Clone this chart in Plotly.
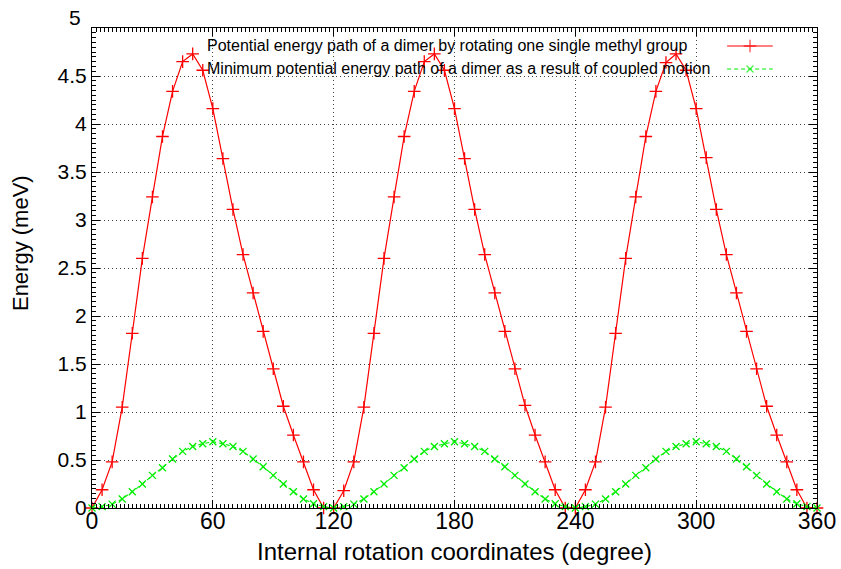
import plotly.graph_objects as go

# Internal rotation angle (degree)
angles = list(range(0, 365, 5))

# Potential energy path by rotating one single methyl group (meV)
red_energy = [
    0.00, 0.19, 0.48, 1.05, 1.82, 2.60, 3.24, 3.87, 4.34, 4.65, 4.73, 4.56,
    4.16, 3.64, 3.11, 2.64, 2.24, 1.84, 1.45, 1.06, 0.76, 0.48, 0.19, 0.00,
    0.00, 0.18, 0.48, 1.05, 1.82, 2.60, 3.24, 3.87, 4.34, 4.65, 4.73, 4.56,
    4.16, 3.64, 3.11, 2.64, 2.24, 1.84, 1.45, 1.07, 0.76, 0.48, 0.19, 0.00,
    0.00, 0.19, 0.48, 1.05, 1.82, 2.60, 3.24, 3.87, 4.34, 4.64, 4.73, 4.56,
    4.16, 3.65, 3.11, 2.64, 2.24, 1.84, 1.45, 1.06, 0.76, 0.48, 0.19, 0.00,
    0.00,
]

# Minimum potential energy path from coupled motion (meV)
green_energy = [
    0.000, 0.014, 0.040, 0.094, 0.170, 0.250, 0.340, 0.420, 0.510, 0.590, 0.640, 0.670,
    0.690, 0.670, 0.640, 0.590, 0.510, 0.430, 0.340, 0.250, 0.170, 0.094, 0.045, 0.014,
    0.000, 0.014, 0.040, 0.094, 0.170, 0.250, 0.340, 0.420, 0.510, 0.590, 0.640, 0.670,
    0.690, 0.670, 0.640, 0.590, 0.510, 0.430, 0.340, 0.250, 0.170, 0.094, 0.045, 0.014,
    0.000, 0.014, 0.040, 0.094, 0.170, 0.250, 0.340, 0.420, 0.510, 0.590, 0.640, 0.670,
    0.690, 0.670, 0.640, 0.590, 0.510, 0.430, 0.340, 0.250, 0.170, 0.094, 0.045, 0.014,
    0.000,
]

x_ticks = [0, 60, 120, 180, 240, 300, 360]
y_ticks = [0, 0.5, 1, 1.5, 2, 2.5, 3, 3.5, 4, 4.5, 5]
y_tick_labels = ["0", "0.5", "1", "1.5", "2", "2.5", "3", "3.5", "4", "4.5", ""]
y_top_label = "5"
y_title = "Energy (meV)"
x_title = "Internal rotation coordinates (degree)"

legend_labels = [
    "Potential energy path of a dimer by rotating one single methyl group",
    "Minimum potential energy path of a dimer as a result of coupled motion",
]

RED = "#ff0000"
GREEN = "#00ee00"
FONT = "Liberation Sans, Arial, Helvetica, sans-serif"

fig = go.Figure()

fig.add_trace(go.Scatter(
    x=angles, y=red_energy, mode="lines+markers",
    line=dict(color=RED, width=1.2),
    marker=dict(symbol="cross-thin", size=9, line=dict(color=RED, width=1.3)),
    cliponaxis=False, showlegend=False,
))
fig.add_trace(go.Scatter(
    x=angles, y=green_energy, mode="lines+markers",
    line=dict(color=GREEN, width=1.1, dash="4px,3px"),
    marker=dict(symbol="x-thin", size=7, line=dict(color=GREEN, width=1.3)),
    cliponaxis=False, showlegend=False,
))

# gnuplot-style key: text left, sample on the right (on a hidden overlay axis)
key_y = [0.9625, 0.9146]
sample_x = [0.876, 0.9076, 0.939]
fig.add_trace(go.Scatter(
    x=sample_x, y=[key_y[0]] * 3, xaxis="x2", yaxis="y2", mode="lines+markers",
    line=dict(color=RED, width=1.2),
    marker=dict(symbol="cross-thin", size=[0, 9, 0], line=dict(color=RED, width=1.3)),
    showlegend=False, hoverinfo="skip", cliponaxis=False,
))
fig.add_trace(go.Scatter(
    x=sample_x, y=[key_y[1]] * 3, xaxis="x2", yaxis="y2", mode="lines+markers",
    line=dict(color=GREEN, width=1.1, dash="4px,3px"),
    marker=dict(symbol="x-thin", size=[0, 7, 0], line=dict(color=GREEN, width=1.3)),
    showlegend=False, hoverinfo="skip", cliponaxis=False,
))
for lbl, yy in zip(legend_labels, key_y):
    fig.add_annotation(
        text=lbl, xref="paper", yref="paper", x=0.1559, y=yy,
        xanchor="left", yanchor="middle", showarrow=False,
        font=dict(family=FONT, size=16, color="black"),
    )

# the top y label sits slightly above its tick, as in the original
fig.add_annotation(
    text=y_top_label, xref="paper", yref="paper", x=-0.0125, y=1.021,
    xanchor="right", yanchor="middle", showarrow=False,
    font=dict(family=FONT, size=21, color="black"),
)
# y-axis title (placed like the original, a bit above the plot centre)
fig.add_annotation(
    text=y_title, xref="paper", yref="paper", x=-0.0993, y=0.552,
    xanchor="center", yanchor="middle", showarrow=False, textangle=-90,
    font=dict(family=FONT, size=22, color="black"),
)

axis_common = dict(
    showline=True, linecolor="black", linewidth=1, mirror="allticks",
    ticks="inside", ticklen=8, tickcolor="black", tickwidth=1,
    showgrid=True, gridcolor="#444444", gridwidth=1, griddash="1px,3px",
    zeroline=False, automargin=False,
)

fig.update_layout(
    width=841, height=569,
    margin=dict(l=92, r=24, t=28, b=61),
    paper_bgcolor="white", plot_bgcolor="white",
    font=dict(family=FONT, color="black"),
    xaxis=dict(
        range=[0, 360], tickvals=x_ticks, ticktext=[str(v) for v in x_ticks],
        tickfont=dict(family=FONT, size=23, color="black"),
        ticklabelstandoff=-8,
        minor=dict(dtick=2, ticks="inside", ticklen=4, tickcolor="black", showgrid=False),
        title=dict(text=x_title,
                   font=dict(family=FONT, size=24, color="black"), standoff=10),
        **axis_common,
    ),
    yaxis=dict(
        range=[0, 5], tickvals=y_ticks, ticktext=y_tick_labels,
        tickfont=dict(family=FONT, size=21, color="black"),
        minor=dict(dtick=0.05, ticks="inside", ticklen=4, tickcolor="black", showgrid=False),
        **axis_common,
    ),
    xaxis2=dict(overlaying="x", range=[0, 1], visible=False, fixedrange=True),
    yaxis2=dict(overlaying="y", range=[0, 1], visible=False, fixedrange=True),
)

fig.write_html("out.html")
